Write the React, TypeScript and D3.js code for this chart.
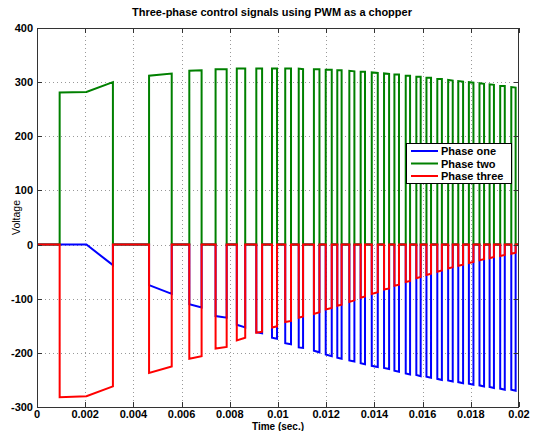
import { useEffect, useRef } from "react";
import * as d3 from "d3";

// pulse timing (sec.)
const pulseStart = [0.00094, 0.00465, 0.00632, 0.00741, 0.00829, 0.0091, 0.00975, 0.0103, 0.01086, 0.01149, 0.01198, 0.01246, 0.01296, 0.01343, 0.01389, 0.0144, 0.01483, 0.0153, 0.01574, 0.01616, 0.01661, 0.01706, 0.01748, 0.01792, 0.01836, 0.01878, 0.01922, 0.01968];
const pulseEnd = [0.00315, 0.00559, 0.00683, 0.00787, 0.00864, 0.00934, 0.00996, 0.01054, 0.01104, 0.01172, 0.01223, 0.01264, 0.01317, 0.01361, 0.01414, 0.01461, 0.01502, 0.01548, 0.01592, 0.01635, 0.0168, 0.01725, 0.01768, 0.01811, 0.01855, 0.01896, 0.01941, 0.01986];

// voltage at the start / end of each pulse
const phaseOneStart = [0, -75, -110, -132, -148, -162, -172, -182, -190, -196, -203, -209, -214, -219, -224, -228, -233, -238, -241, -244, -248, -251, -254, -257, -260, -263, -266, -268];
const phaseOneEnd = [-38, -91, -116, -135, -153, -164, -174, -184, -191, -199, -206, -211, -216, -221, -226, -230, -235, -240, -243, -246, -250, -253, -256, -259, -262, -265, -268, -270];
const phaseTwoStart = [281, 312, 321, 324, 325, 325, 325, 325, 325, 324, 323, 322, 321, 319, 318, 316, 314, 312, 310, 308, 306, 304, 302, 300, 298, 296, 293, 291];
const phaseTwoEnd = [300, 316, 322, 324, 325, 325, 325, 325, 324, 324, 323, 322, 320, 319, 317, 315, 314, 312, 310, 308, 306, 303, 301, 299, 297, 295, 293, 290];
const phaseThreeStart = [-282, -237, -211, -192, -177, -163, -153, -143, -135, -128, -120, -113, -106, -98, -91, -83, -76, -69, -62, -56, -50, -44, -39, -34, -29, -25, -21, -17];
const phaseThreeEnd = [-262, -225, -206, -189, -172, -161, -151, -141, -133, -125, -117, -111, -103, -96, -88, -81, -74, -67, -60, -54, -48, -42, -37, -32, -27, -23, -19, -15];

// bend inside the first pulse
const kneeTime = 0.00205;
const kneeValues = [0, 282, -280];

const xTicks = [0, 0.002, 0.004, 0.006, 0.008, 0.01, 0.012, 0.014, 0.016, 0.018, 0.02];
const xTickLabels = ["0", "0.002", "0.004", "0.006", "0.008", "0.01", "0.012", "0.014", "0.016", "0.018", "0.02"];
const yTicks = [-300, -200, -100, 0, 100, 200, 300, 400];

const seriesNames = ["Phase one", "Phase two", "Phase three"];
const seriesColors = ["#0000ff", "#008000", "#ff0000"];

type Pt = [number, number];

function buildSeries(starts: number[], ends: number[], knee: number): Pt[] {
    const pts: Pt[] = [[0, 0]];
    pulseStart.forEach((ts, i) => {
        pts.push([ts, 0], [ts, starts[i]]);
        if (i === 0) pts.push([kneeTime, knee]);
        pts.push([pulseEnd[i], ends[i]], [pulseEnd[i], 0]);
    });
    pts.push([0.02, 0]);
    return pts;
}

export default function App() {
    const svgRef = useRef<SVGSVGElement>(null);

    useEffect(() => {
        if (!svgRef.current) return;
        const svg = d3.select(svgRef.current);
        svg.selectAll("*").remove();

        const W = 537, H = 431;
        const left = 37, right = 519, top = 28, bottom = 407;
        const font = "'Liberation Sans', Arial, sans-serif";

        svg.append("rect").attr("width", W).attr("height", H).attr("fill", "#fff");

        const x = d3.scaleLinear().domain([0, 0.02]).range([left, right]);
        const y = d3.scaleLinear().domain([-300, 400]).range([bottom, top]);

        // grid
        const grid = svg.append("g").attr("stroke", "#999").attr("stroke-width", 1).attr("stroke-dasharray", "1,3");
        xTicks.slice(1, -1).forEach(t => {
            grid.append("line").attr("x1", Math.round(x(t)) + 0.5).attr("x2", Math.round(x(t)) + 0.5).attr("y1", top).attr("y2", bottom);
        });
        yTicks.slice(1, -1).forEach(t => {
            grid.append("line").attr("y1", Math.round(y(t)) + 0.5).attr("y2", Math.round(y(t)) + 0.5).attr("x1", left).attr("x2", right);
        });

        // series
        const line = d3.line<Pt>().x(d => x(d[0])).y(d => y(d[1]));
        const series = [
            buildSeries(phaseOneStart, phaseOneEnd, kneeValues[0]),
            buildSeries(phaseTwoStart, phaseTwoEnd, kneeValues[1]),
            buildSeries(phaseThreeStart, phaseThreeEnd, kneeValues[2]),
        ];
        series.forEach((pts, i) => {
            svg.append("path")
                .datum(pts)
                .attr("fill", "none")
                .attr("stroke", seriesColors[i])
                .attr("stroke-width", 2)
                .attr("stroke-linejoin", "miter")
                .attr("d", line);
        });

        // frame and ticks
        const axis = svg.append("g").attr("stroke", "#333").attr("stroke-width", 1);
        axis.append("rect").attr("x", left + 0.5).attr("y", top + 0.5).attr("width", right - left - 1).attr("height", bottom - top).attr("fill", "none");
        xTicks.forEach(t => {
            const px = Math.round(x(t)) + 0.5;
            axis.append("line").attr("x1", px).attr("x2", px).attr("y1", bottom).attr("y2", bottom - 5);
            axis.append("line").attr("x1", px).attr("x2", px).attr("y1", top).attr("y2", top + 5);
        });
        yTicks.forEach(t => {
            const py = Math.round(y(t)) + 0.5;
            axis.append("line").attr("y1", py).attr("y2", py).attr("x1", left).attr("x2", left + 5);
            axis.append("line").attr("y1", py).attr("y2", py).attr("x1", right).attr("x2", right - 5);
        });

        // tick labels
        xTicks.forEach((t, i) => {
            svg.append("text").attr("x", x(t)).attr("y", bottom + 11)
                .attr("text-anchor", "middle").attr("font-family", font).attr("font-weight", "bold")
                .attr("font-size", 11).attr("fill", "#000").text(xTickLabels[i]);
        });
        yTicks.forEach(t => {
            svg.append("text").attr("x", left - 4).attr("y", y(t) + 4)
                .attr("text-anchor", "end").attr("font-family", font).attr("font-weight", "bold")
                .attr("font-size", 11).attr("fill", "#000").text(String(t));
        });

        // labels
        svg.append("text").attr("x", 272).attr("y", 16)
            .attr("text-anchor", "middle").attr("font-family", font).attr("font-weight", "bold")
            .attr("font-size", 11).text("Three-phase control signals using PWM as a chopper");
        svg.append("text").attr("x", (left + right) / 2).attr("y", 430)
            .attr("text-anchor", "middle").attr("font-family", font).attr("font-weight", "bold")
            .attr("font-size", 10).text("Time (sec.)");
        svg.append("text").attr("transform", `translate(20,${(top + bottom) / 2}) rotate(-90)`)
            .attr("text-anchor", "middle").attr("font-family", font)
            .attr("font-size", 10.5).text("Voltage");

        // legend
        const lg = svg.append("g").attr("transform", "translate(406,143)");
        lg.append("rect").attr("x", 0.5).attr("y", 0.5).attr("width", 105).attr("height", 40)
            .attr("fill", "#fff").attr("stroke", "#000").attr("stroke-width", 1);
        seriesNames.forEach((name, i) => {
            const ry = 8 + i * 12.5;
            lg.append("line").attr("x1", 5).attr("x2", 32).attr("y1", ry).attr("y2", ry)
                .attr("stroke", seriesColors[i]).attr("stroke-width", 2);
            lg.append("text").attr("x", 35).attr("y", ry + 4).attr("font-family", font)
                .attr("font-weight", "bold").attr("font-size", 11).text(name);
        });
    }, []);

    return (
        <svg ref={svgRef} width={537} height={431}
            style={{ position: "absolute", left: 0, top: 0, display: "block" }} />
    );
}
